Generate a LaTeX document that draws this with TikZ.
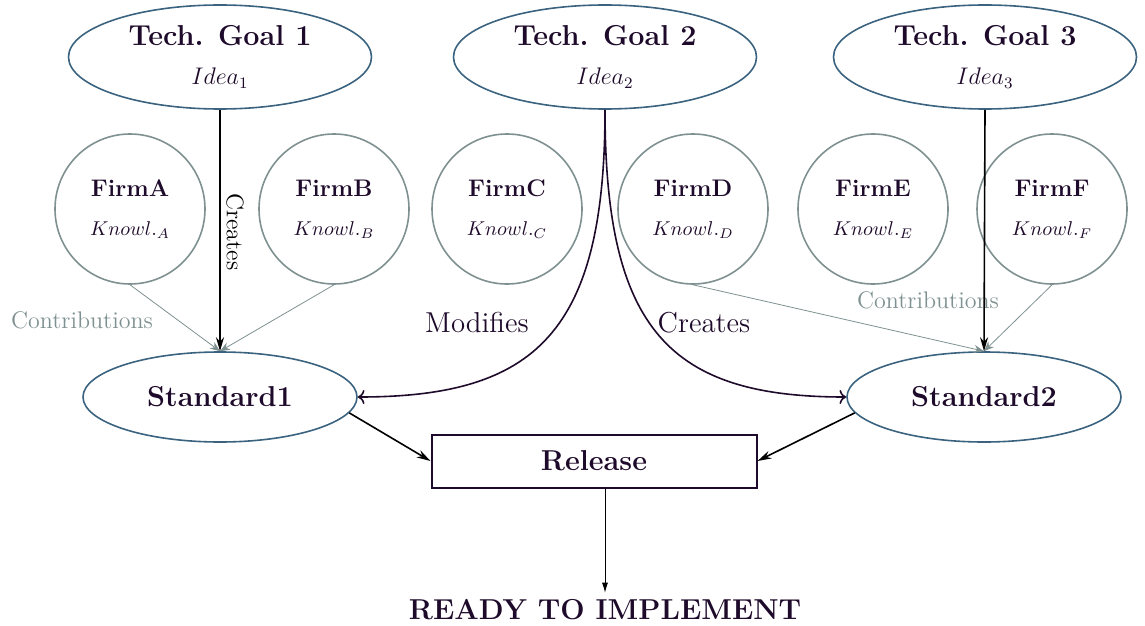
\documentclass[tikz,border=0pt]{standalone}
\usepackage{amsmath,amsthm,amssymb}
\usetikzlibrary{shapes.geometric,arrows.meta}
\definecolor{goalblue}{HTML}{3B6380}
\definecolor{firmgray}{HTML}{7F9090}
\definecolor{inkpurple}{HTML}{1E0A2A}
\begin{document}
\begin{tikzpicture}[x=0.5pt,y=-0.5pt,
  goal/.style={ellipse,draw=goalblue,thick,text=inkpurple,align=center,inner sep=0pt,minimum width=151.5pt,minimum height=52pt},
  firm/.style={circle,draw=firmgray,thick,text=inkpurple,align=center,inner sep=0pt,minimum size=75pt},
  stdnode/.style={ellipse,draw=goalblue,thick,text=inkpurple,font=\Large\bfseries,minimum width=137pt,minimum height=45pt},
  relbox/.style={rectangle,draw=inkpurple,line width=1pt,text=inkpurple,font=\Large\bfseries,minimum width=162.5pt,minimum height=26.5pt},
  creates/.style={draw=black,thick,-{Stealth[length=7pt,width=4pt]}},
  contrib/.style={draw=firmgray,thin,-{Stealth[length=5pt,width=4pt]}},
  modify/.style={draw=inkpurple,thick,->},
  contribtext/.style={text=firmgray,font=\large},
  verbtext/.style={text=inkpurple,font=\Large}]
\useasboundingbox (0,0) rectangle (1145,626);
\node[goal] (goal1) at (220,57) {{\Large\bfseries Tech. Goal 1}\\[7.5pt]{\large $Idea_1$}};
\node[goal] (goal2) at (605,57) {{\Large\bfseries Tech. Goal 2}\\[7.5pt]{\large $Idea_2$}};
\node[goal] (goal3) at (985,57) {{\Large\bfseries Tech. Goal 3}\\[7.5pt]{\large $Idea_3$}};
\node[firm] (firmA) at (130,209) {{\large\bfseries FirmA}\\[7.5pt]$Knowl._A$};
\node[firm] (firmB) at (334,209) {{\large\bfseries FirmB}\\[7.5pt]$Knowl._B$};
\node[firm] (firmC) at (507,209) {{\large\bfseries FirmC}\\[7.5pt]$Knowl._C$};
\node[firm] (firmD) at (693,209) {{\large\bfseries FirmD}\\[7.5pt]$Knowl._D$};
\node[firm] (firmE) at (873,209) {{\large\bfseries FirmE}\\[7.5pt]$Knowl._E$};
\node[firm] (firmF) at (1052,209) {{\large\bfseries FirmF}\\[7.5pt]$Knowl._F$};
\node[stdnode] (std1) at (220,397) {Standard1};
\node[stdnode] (std2) at (984,397) {Standard2};
\node[relbox] (release) at (594,461) {Release};
\node[text=inkpurple,font=\Large\bfseries] (ready) at (605,610) {READY TO IMPLEMENT};
\node[contribtext] (contribL) at (82,320) {Contributions};
\node[contribtext] (contribR) at (928,300) {Contributions};
\node[font=\large,rotate=-90] (createsL) at (235,232) {Creates};
\node[verbtext] (modifies) at (477,323) {Modifies};
\node[verbtext] (createsR) at (704,323) {Creates};
\draw[contrib] (firmA.south) -- (std1.north);
\draw[contrib] (firmB.south) -- (std1.north);
\draw[contrib] (firmD.south) -- (std2.north);
\draw[contrib] (firmF.south) -- (std2.north);
\draw[creates] (goal1.south) -- (std1.north);
\draw[creates] (goal3.south) -- (std2.north);
\draw[modify] (goal2.south) to[out=-90,in=0,out looseness=1.5,in looseness=1.2] (std1.east);
\draw[modify] (goal2.south) to[out=-90,in=180,out looseness=1.5,in looseness=1.2] (std2.west);
\draw[creates] (std1.-7) -- (release.west);
\draw[creates] (std2.187) -- (release.east);
\draw[thin,-{Latex[length=5pt,width=3pt]}] (release.south -| ready.north) -- (ready.north);
\end{tikzpicture}
\end{document}
